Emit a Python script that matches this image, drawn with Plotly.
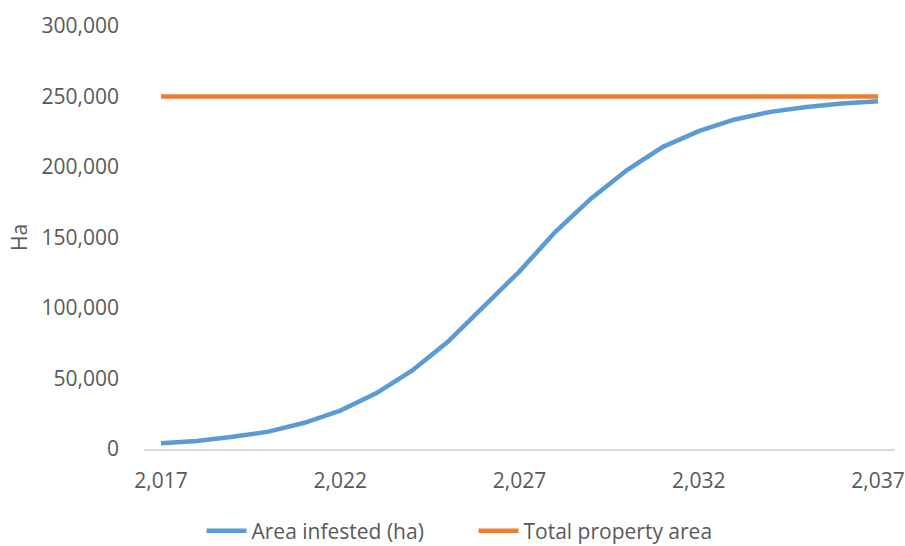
import plotly.graph_objects as go

years = list(range(2017, 2038))
area_infested = [4000, 5700, 8700, 12300, 18600, 27200, 39500, 55500, 76000, 101000,
                 126000, 154000, 177700, 197800, 214300, 225400, 233700, 239100,
                 242600, 245000, 246700]
total_property = [250000] * len(years)

x_ticks = [2017, 2022, 2027, 2032, 2037]
y_ticks = [0, 50000, 100000, 150000, 200000, 250000, 300000]

FONT = "Open Sans"
GREY = "#595959"

fig = go.Figure()
fig.add_trace(go.Scatter(x=years, y=area_infested, mode="lines", name="Area infested (ha)",
                         line=dict(color="#5B9BD5", width=4.5)))
fig.add_trace(go.Scatter(x=years, y=total_property, mode="lines", name="Total property area",
                         line=dict(color="#ED7D31", width=4.5)))

fig.update_layout(
    width=905, height=546,
    margin=dict(l=144, r=10, t=26, b=97, autoexpand=False),
    paper_bgcolor="white", plot_bgcolor="white",
    font=dict(family=FONT, size=21, color=GREY),
    showlegend=True,
    legend=dict(orientation="h", xref="container", yref="container",
                x=0.5232, xanchor="center", y=0.0275, yanchor="middle",
                font=dict(family=FONT, size=21, color=GREY),
                entrywidth=217, entrywidthmode="pixels",
                itemwidth=40, traceorder="normal"),
)
fig.update_xaxes(
    range=[2016.526, 2037.474], automargin=False,
    tickvals=x_ticks, ticktext=[f"{v:,}" for v in x_ticks],
    showgrid=False, zeroline=False,
    showline=True, linecolor="#D9D9D9", linewidth=1.5,
    ticks="", ticklabelstandoff=12,
    tickfont=dict(family=FONT, size=21, color=GREY),
)
fig.update_yaxes(
    range=[0, 300000], automargin=False,
    tickvals=y_ticks, ticktext=[f"{v:,}" for v in y_ticks],
    showgrid=False, zeroline=False, showline=False,
    ticks="", ticklabelstandoff=24,
    tickfont=dict(family=FONT, size=21, color=GREY),
    title=dict(text="Ha", standoff=8, font=dict(family=FONT, size=21, color=GREY)),
)

fig.write_html("out.html", config={"displayModeBar": False},
               post_script="document.body.style.margin='0';")
